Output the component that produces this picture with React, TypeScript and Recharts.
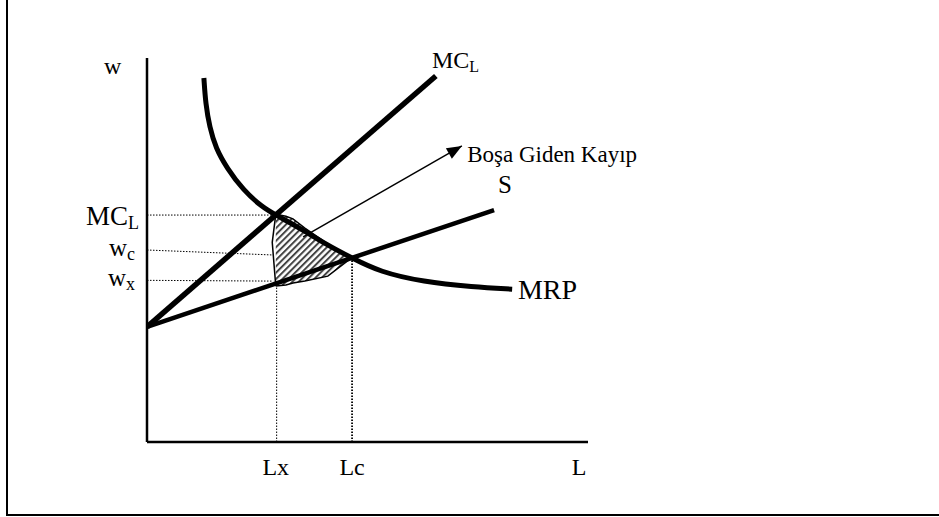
import React from "react";
import {
  ComposedChart,
  Line,
  Area,
  XAxis,
  YAxis,
  ReferenceLine,
  ReferenceDot,
} from "recharts";

// curves (L on x, w on y)
const mclL = [0, 65.5];
const mclW = [30, 95.3];

const supplyL = [0, 78.7];
const supplyW = [30, 60.4];

const mrpL = [12.9, 13.3, 14.2, 15.6, 18.1, 21.8, 26.1, 29.2, 34.7, 40.4, 46.5, 52.8, 62.6, 73.9, 82.8];
const mrpW = [94.8, 88.0, 82.0, 76.5, 71.4, 65.6, 61.2, 59.1, 55.7, 51.6, 47.9, 44.3, 41.7, 40.4, 39.8];

// dead weight loss region
const lossL = [29.2, 31.5, 33.1, 35.8, 41.0, 46.3];
const lossHigh = [59.3, 58.8, 58.1, 55.7, 51.6, 48.2];
const lossLow = [40.6, 40.9, 41.4, 41.9, 43.2, 47.9];
const lossEdgeL = [29.2, 28.4, 29.2];
const lossEdgeW = [59.3, 52.0, 40.6];

// arrow from region to its caption
const arrowL = [35.4, 71.4];
const arrowW = [53.4, 77.1];

// ticks
const xTickValues = [29.2, 46.5, 98.0];
const xTickLabels = ["Lx", "Lc", "L"];
const yTickValues = [59.1, 50.0, 42.1];
const yTickMain = ["MC", "w", "w"];
const yTickSub = ["L", "c", "x"];

const Lx = 29.2;
const Lc = 46.5;

const FONT = "'Liberation Serif', 'Times New Roman', serif";

const toPoints = (xs: number[], ys: number[]) => xs.map((x, i) => ({ x, y: ys[i] }));

const mclData = toPoints(mclL, mclW);
const supplyData = toPoints(supplyL, supplyW);
const mrpData = toPoints(mrpL, mrpW);
const lossData = lossL.map((x, i) => ({ x, band: [lossLow[i], lossHigh[i]] }));
const lossEdge = toPoints(lossEdgeL, lossEdgeW);
const arrowData = toPoints(arrowL, arrowW);

function XTick(props: any) {
  const { x, y, payload } = props;
  const i = xTickValues.indexOf(payload.value);
  return (
    <text x={x} y={y} dy={25} textAnchor="middle" fontFamily={FONT} fontSize={24} fill="#000">
      {xTickLabels[i]}
    </text>
  );
}

function YTick(props: any) {
  const { x, y, payload } = props;
  const i = yTickValues.indexOf(payload.value);
  const big = yTickMain[i] === "MC";
  return (
    <text
      x={big ? x : x - 4}
      y={y}
      dy={big ? 10 : 6}
      textAnchor="end"
      fontFamily={FONT}
      fontSize={big ? 27 : 25}
      fill="#000"
    >
      {yTickMain[i]}
      <tspan fontSize={18} dy={4}>
        {yTickSub[i]}
      </tspan>
    </text>
  );
}

function Caption(props: any) {
  const { viewBox, text, sub, size = 24 } = props;
  return (
    <text x={viewBox.x} y={viewBox.y} fontFamily={FONT} fontSize={size} fill="#000">
      {text}
      {sub && (
        <tspan fontSize={16} dy={4}>
          {sub}
        </tspan>
      )}
    </text>
  );
}

function ArrowHead(props: any) {
  const { cx, cy, index } = props;
  if (index !== 1) return <g key={index} />;
  return (
    <polygon
      key={index}
      points="0,0 -15,-6 -15,6"
      fill="#000"
      transform={`translate(${cx},${cy}) rotate(-30)`}
    />
  );
}

export default function App() {
  return (
    <div style={{ position: "absolute", left: 0, top: 0, width: 939, height: 517, background: "#fff" }}>
      <div
        style={{
          position: "absolute",
          left: 6,
          top: 0,
          width: 933,
          height: 516,
          boxSizing: "border-box",
          borderLeft: "2px solid #000",
          borderBottom: "2px solid #000",
        }}
      />
      <div style={{ position: "absolute", left: 0, top: 0 }}>
        <ComposedChart width={939} height={517} margin={{ top: 58, right: 351, bottom: 45, left: 87 }}>
          <defs>
            <pattern id="hatch" patternUnits="userSpaceOnUse" width="4.5" height="4.5" patternTransform="rotate(45)">
              <rect width="4.5" height="4.5" fill="#fff" />
              <line x1="1" y1="0" x2="1" y2="4.5" stroke="#444" strokeWidth="2" />
            </pattern>
          </defs>
          <XAxis
            type="number"
            dataKey="x"
            domain={[0, 100]}
            ticks={xTickValues}
            tick={<XTick />}
            tickLine={false}
            axisLine={{ stroke: "#000", strokeWidth: 2.5 }}
            height={30}
            allowDataOverflow
          />
          <YAxis
            type="number"
            dataKey="y"
            domain={[0, 100]}
            ticks={yTickValues}
            tick={<YTick />}
            tickLine={false}
            axisLine={{ stroke: "#000", strokeWidth: 2.5 }}
            width={60}
            allowDataOverflow
            label={{
              content: (p: any) => (
                <text x={p.viewBox.x + 17} y={p.viewBox.y + 16} fontFamily={FONT} fontSize={24} fill="#000">
                  w
                </text>
              ),
            }}
          />

          <ReferenceLine segment={[{ x: 0, y: 59.1 }, { x: Lx - 0.6, y: 59.1 }]} stroke="#000" strokeWidth={1} strokeDasharray="1.5 1.5" />
          <ReferenceLine segment={[{ x: 0, y: 50.0 }, { x: Lx - 0.6, y: 48.7 }]} stroke="#000" strokeWidth={1} strokeDasharray="1.5 1.5" />
          <ReferenceLine segment={[{ x: 0, y: 42.1 }, { x: Lx - 0.6, y: 41.9 }]} stroke="#000" strokeWidth={1} strokeDasharray="1.5 1.5" />
          <ReferenceLine segment={[{ x: Lx + 0.2, y: 0 }, { x: Lx + 0.2, y: 40.6 }]} stroke="#000" strokeWidth={1} strokeDasharray="1.5 1.5" />
          <ReferenceLine segment={[{ x: Lc, y: 0 }, { x: Lc, y: 47.9 }]} stroke="#000" strokeWidth={1.8} strokeDasharray="1.5 1.5" />

          <Line data={mclData} dataKey="y" type="linear" stroke="#000" strokeWidth={5.5} dot={false} activeDot={false} isAnimationActive={false} />
          <Line data={supplyData} dataKey="y" type="linear" stroke="#000" strokeWidth={4.5} dot={false} activeDot={false} isAnimationActive={false} />
          <Line data={mrpData} dataKey="y" type="basis" stroke="#000" strokeWidth={5} dot={false} activeDot={false} isAnimationActive={false} />

          <Area
            data={lossData}
            dataKey="band"
            type="linear"
            stroke="#000"
            strokeWidth={1.5}
            fill="url(#hatch)"
            fillOpacity={1}
            dot={false}
            activeDot={false}
            isAnimationActive={false}
          />
          <Line data={lossEdge} dataKey="y" type="linear" stroke="#000" strokeWidth={1.5} dot={false} activeDot={false} isAnimationActive={false} />
          <Line data={arrowData} dataKey="y" type="linear" stroke="#000" strokeWidth={1.5} dot={<ArrowHead />} activeDot={false} isAnimationActive={false} />

          <ReferenceDot x={64.6} y={97.4} r={0} stroke="none" fill="none" label={<Caption text="MC" sub="L" />} />
          <ReferenceDot x={79.6} y={64.8} r={0} stroke="none" fill="none" label={<Caption text="S" size={25} />} />
          <ReferenceDot x={84.1} y={37.2} r={0} stroke="none" fill="none" label={<Caption text="MRP" size={28} />} />
          <ReferenceDot x={72.6} y={73.0} r={0} stroke="none" fill="none" label={<Caption text="Boşa Giden Kayıp" size={23} />} />
        </ComposedChart>
      </div>
    </div>
  );
}
